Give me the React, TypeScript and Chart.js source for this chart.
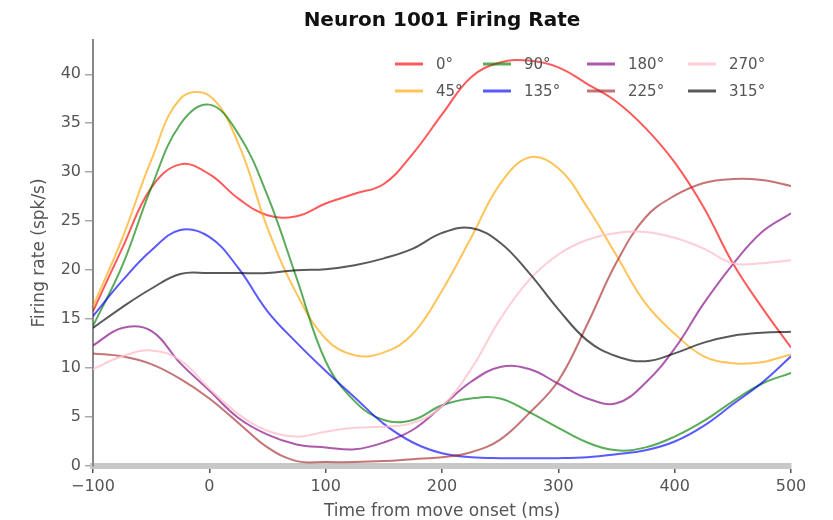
import React, { useEffect, useRef } from 'react';
import { Chart, registerables } from 'chart.js';

Chart.register(...registerables);

const TITLE = 'Neuron 1001 Firing Rate';
const X_LABEL = 'Time from move onset (ms)';
const Y_LABEL = 'Firing rate (spk/s)';

const timesMs = [-100, -75, -50, -25, 0, 25, 50, 75, 100, 125, 150, 175, 200, 225, 250, 275, 300, 325, 350, 375, 400, 425, 450, 475, 500];

const directions = ['0°', '45°', '90°', '135°', '180°', '225°', '270°', '315°'];

const lineColors = [
  'rgba(255,0,0,0.65)',
  'rgba(255,165,0,0.65)',
  'rgba(0,128,0,0.65)',
  'rgba(0,0,255,0.65)',
  'rgba(128,0,128,0.65)',
  'rgba(165,42,42,0.65)',
  'rgba(255,192,203,0.8)',
  'rgba(0,0,0,0.65)',
];

const rate0 = [15.8, 22.2, 28.4, 30.8, 29.8, 27.3, 25.6, 25.5, 26.8, 27.8, 28.8, 31.9, 35.9, 39.7, 41.2, 41.4, 40.7, 39.0, 37.2, 34.5, 31.0, 26.4, 20.7, 16.2, 12.1];
const rate45 = [16.3, 23.2, 31.2, 37.5, 37.8, 32.9, 24.3, 17.6, 13.0, 11.3, 11.6, 13.5, 17.9, 23.3, 28.8, 31.5, 30.4, 26.4, 21.5, 16.6, 13.5, 11.2, 10.5, 10.6, 11.4];
const rate90 = [14.3, 20.4, 28.4, 34.9, 36.9, 33.9, 27.6, 19.2, 10.7, 6.6, 4.7, 4.7, 6.2, 6.9, 6.9, 5.5, 3.9, 2.4, 1.6, 1.9, 3.0, 4.6, 6.6, 8.4, 9.5];
const rate135 = [15.3, 18.9, 22.0, 24.1, 23.4, 20.2, 15.8, 12.6, 9.7, 7.0, 4.3, 2.4, 1.3, 0.9, 0.8, 0.8, 0.8, 0.9, 1.2, 1.6, 2.5, 4.1, 6.3, 8.5, 11.2];
const rate180 = [12.3, 14.1, 13.8, 10.5, 7.7, 4.9, 3.2, 2.2, 1.9, 1.7, 2.4, 3.7, 6.1, 8.6, 10.1, 9.9, 8.4, 6.9, 6.4, 8.5, 12.0, 16.6, 20.6, 23.9, 25.8];
const rate225 = [11.5, 11.2, 10.4, 8.9, 6.9, 4.4, 1.9, 0.5, 0.4, 0.4, 0.5, 0.7, 0.9, 1.4, 2.7, 5.4, 8.7, 14.5, 20.8, 25.4, 27.6, 28.9, 29.3, 29.2, 28.6];
const rate270 = [9.9, 11.2, 11.8, 10.8, 7.9, 5.3, 3.6, 3.0, 3.5, 3.9, 4.0, 4.4, 6.1, 9.9, 15.0, 19.0, 21.6, 23.1, 23.8, 23.9, 23.3, 22.2, 20.7, 20.7, 21.0];
const rate315 = [14.1, 16.2, 18.1, 19.6, 19.7, 19.7, 19.7, 20.0, 20.1, 20.5, 21.2, 22.2, 23.8, 24.3, 22.8, 19.7, 16.0, 12.8, 11.2, 10.7, 11.5, 12.6, 13.3, 13.6, 13.7];

const X_MIN = -100;
const X_MAX = 500;
const X_STEP = 100;
const Y_MIN = 0;
const Y_MAX = 43.5;
const Y_STEP = 5;

const FONT = '"DejaVu Sans", sans-serif';

const overlayPlugin = {
  id: 'titleAndLegend',
  afterDraw(chart: any) {
    const { ctx, chartArea } = chart;
    ctx.save();
    ctx.font = `bold 20px ${FONT}`;
    ctx.fillStyle = '#111';
    ctx.textAlign = 'center';
    ctx.textBaseline = 'middle';
    ctx.fillText(TITLE, (chartArea.left + chartArea.right) / 2, 21);

    const colX = [395, 483, 587, 688];
    const rowY = [64, 91];
    ctx.font = `15px ${FONT}`;
    ctx.textAlign = 'left';
    chart.data.datasets.forEach((ds: any, i: number) => {
      const cx = colX[Math.floor(i / 2)];
      const cy = rowY[i % 2];
      ctx.strokeStyle = ds.borderColor;
      ctx.lineWidth = 3;
      ctx.beginPath();
      ctx.moveTo(cx, cy);
      ctx.lineTo(cx + 28, cy);
      ctx.stroke();
      ctx.fillStyle = '#555';
      ctx.fillText(ds.label, cx + 41, cy + 1);
    });
    ctx.restore();
  },
};

export default function App() {
  const ref = useRef<HTMLCanvasElement>(null);

  useEffect(() => {
    const series = [rate0, rate45, rate90, rate135, rate180, rate225, rate270, rate315];
    const chart = new Chart(ref.current as HTMLCanvasElement, {
      type: 'line',
      data: {
        datasets: series.map((s, i) => ({
          label: directions[i],
          data: s.map((v, j) => ({ x: timesMs[j], y: v })),
          borderColor: lineColors[i],
          backgroundColor: lineColors[i],
          borderWidth: 2,
          pointRadius: 0,
          fill: false,
          tension: 0.4,
          order: series.length - i,
        })),
      },
      options: {
        responsive: false,
        animation: false,
        devicePixelRatio: 1,
        layout: { padding: { top: 40, right: 42, bottom: 0, left: 0 } },
        plugins: {
          legend: { display: false },
          title: { display: false },
          tooltip: { enabled: false },
        },
        scales: {
          x: {
            type: 'linear',
            min: X_MIN,
            max: X_MAX,
            ticks: {
              stepSize: X_STEP,
              includeBounds: false,
              maxRotation: 0,
              color: '#555',
              padding: 4,
              font: { family: FONT, size: 16 },
              callback: (v: any) => (Number(v) < 0 ? '\u2212' + Math.abs(Number(v)) : String(v)),
            },
            grid: { display: true, drawOnChartArea: false, drawTicks: true, tickLength: 7, color: '#555', lineWidth: 1.5 },
            border: { display: true, color: '#c8c8c8', width: 6 },
            title: { display: true, text: X_LABEL, color: '#555', font: { family: FONT, size: 17 }, padding: { top: 2, bottom: -2 } },
            afterFit: (s: any) => { s.height = 54; },
          },
          y: {
            type: 'linear',
            min: Y_MIN,
            max: Y_MAX,
            ticks: {
              stepSize: Y_STEP,
              includeBounds: false,
              color: '#555',
              padding: 4,
              font: { family: FONT, size: 16 },
            },
            grid: { display: true, drawOnChartArea: false, drawTicks: true, tickLength: 8, color: '#aaa', lineWidth: 1.5 },
            border: { display: true, color: '#888', width: 2 },
            title: { display: true, text: Y_LABEL, color: '#555', font: { family: FONT, size: 17 }, padding: { top: 29, bottom: 0 } },
            afterFit: (s: any) => { s.width = 93; },
          },
        },
      },
      plugins: [overlayPlugin],
    } as any);
    return () => chart.destroy();
  }, []);

  return (
    <div style={{ position: 'absolute', left: 0, top: 0, width: 833, height: 520 }}>
      <canvas ref={ref} width={833} height={520} style={{ width: 833, height: 520 }} />
    </div>
  );
}
